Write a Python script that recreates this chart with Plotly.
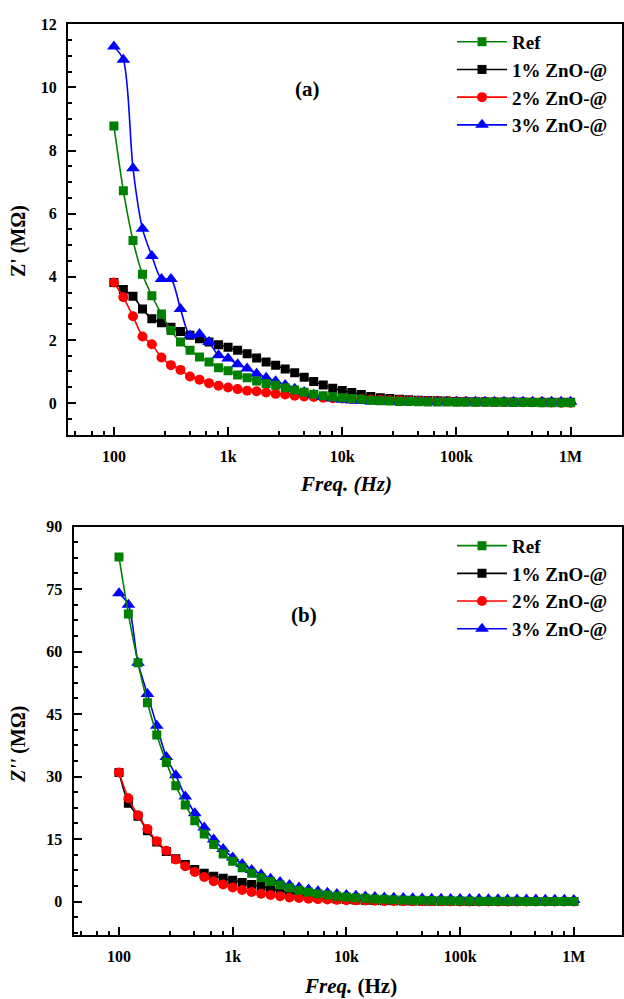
import plotly.graph_objects as go

# ---------------- data ----------------
freq = [100, 121, 147, 178, 215, 261, 316, 383, 464, 562, 681, 825,
        1000, 1212, 1468, 1778, 2154, 2610, 3162, 3831, 4642, 5623, 6813, 8254,
        10000, 12115, 14678, 17783, 21544, 26102, 31623, 38312, 46416, 56234, 68129, 82540,
        100000, 121153, 146780, 177828, 215443, 261016, 316228, 383119, 464159, 562341, 681292, 825404,
        1000000]

series_names = ["Ref", "1% ZnO-@", "2% ZnO-@", "3% ZnO-@"]

# (a) Z' (MOhm)
zr_ref = [8.78, 6.73, 5.15, 4.08, 3.40, 2.82, 2.30, 1.93, 1.67, 1.46, 1.30, 1.12,
          1.02, 0.89, 0.80, 0.70, 0.62, 0.56, 0.48, 0.41, 0.34, 0.28, 0.23, 0.20,
          0.17, 0.14, 0.12, 0.09, 0.07, 0.06, 0.05, 0.045, 0.04, 0.035, 0.03, 0.03,
          0.025, 0.025, 0.02, 0.02, 0.02, 0.02, 0.015, 0.015, 0.015, 0.01, 0.01, 0.01,
          0.01]
zr_1 = [3.82, 3.60, 3.38, 2.98, 2.67, 2.54, 2.40, 2.27, 2.15, 2.04, 1.93, 1.85,
        1.77, 1.67, 1.56, 1.43, 1.30, 1.20, 1.08, 0.96, 0.82, 0.68, 0.57, 0.47,
        0.40, 0.33, 0.27, 0.21, 0.17, 0.14, 0.12, 0.10, 0.09, 0.08, 0.07, 0.06,
        0.05, 0.05, 0.04, 0.04, 0.035, 0.03, 0.03, 0.03, 0.025, 0.02, 0.02, 0.02,
        0.02]
zr_2 = [3.82, 3.35, 2.75, 2.11, 1.86, 1.44, 1.20, 1.05, 0.84, 0.74, 0.63, 0.55,
        0.49, 0.44, 0.39, 0.37, 0.33, 0.29, 0.27, 0.23, 0.21, 0.19, 0.17, 0.15,
        0.14, 0.13, 0.12, 0.11, 0.10, 0.09, 0.085, 0.08, 0.07, 0.065, 0.06, 0.055,
        0.05, 0.045, 0.04, 0.04, 0.035, 0.03, 0.03, 0.025, 0.02, 0.02, 0.015, 0.01,
        0.01]
zr_3 = [11.30, 10.88, 7.44, 5.52, 4.66, 3.93, 3.93, 2.98, 2.14, 2.19, 1.93, 1.51,
        1.41, 1.23, 1.09, 0.93, 0.80, 0.69, 0.57, 0.45, 0.35, 0.26, 0.19, 0.14,
        0.10, 0.08, 0.06, 0.05, 0.045, 0.04, 0.04, 0.04, 0.04, 0.04, 0.04, 0.04,
        0.04, 0.04, 0.04, 0.04, 0.04, 0.04, 0.04, 0.04, 0.04, 0.04, 0.04, 0.04,
        0.04]

# (b) Z'' (MOhm)
zi_ref = [82.7, 69.0, 57.3, 47.7, 40.0, 33.4, 27.8, 23.2, 19.4, 16.2, 13.7, 11.4,
          9.7, 8.1, 6.8, 5.7, 4.8, 4.0, 3.3, 2.7, 2.3, 1.9, 1.6, 1.3,
          1.1, 0.95, 0.8, 0.65, 0.55, 0.45, 0.4, 0.35, 0.3, 0.25, 0.2, 0.18,
          0.15, 0.13, 0.11, 0.1, 0.08, 0.07, 0.06, 0.05, 0.04, 0.03, 0.03, 0.02,
          0.02]
zi_1 = [31.0, 23.6, 20.5, 17.0, 14.3, 12.0, 10.3, 8.9, 7.7, 6.8, 6.1, 5.6,
        5.1, 4.6, 4.1, 3.6, 3.1, 2.6, 2.1, 1.7, 1.3, 1.0, 0.8, 0.6,
        0.5, 0.4, 0.33, 0.27, 0.22, 0.18, 0.15, 0.12, 0.1, 0.09, 0.08, 0.07,
        0.06, 0.05, 0.05, 0.04, 0.04, 0.03, 0.03, 0.03, 0.02, 0.02, 0.02, 0.01,
        0.01]
zi_2 = [31.0, 24.8, 20.7, 17.4, 14.5, 12.2, 10.1, 8.5, 7.1, 5.9, 4.9, 4.1,
        3.4, 2.8, 2.3, 1.9, 1.6, 1.3, 1.0, 0.85, 0.7, 0.6, 0.5, 0.42,
        0.35, 0.3, 0.25, 0.2, 0.17, 0.15, 0.12, 0.1, 0.09, 0.08, 0.07, 0.06,
        0.05, 0.05, 0.04, 0.04, 0.03, 0.03, 0.03, 0.02, 0.02, 0.02, 0.01, 0.01,
        0.01]
zi_3 = [74.0, 71.2, 57.3, 49.8, 42.2, 34.7, 30.3, 25.2, 21.2, 17.8, 14.9, 12.6,
        10.6, 9.0, 7.6, 6.5, 5.5, 4.7, 4.0, 3.4, 2.9, 2.5, 2.1, 1.8,
        1.6, 1.4, 1.25, 1.1, 1.0, 0.9, 0.85, 0.8, 0.75, 0.7, 0.7, 0.65,
        0.6, 0.6, 0.6, 0.55, 0.55, 0.5, 0.5, 0.5, 0.5, 0.45, 0.45, 0.45,
        0.4]

x_tickvals = [100, 1000, 10000, 100000, 1000000]
x_ticktext = ["100", "1k", "10k", "100k", "1M"]
x_minor_mult = [2.8, 4.6, 6.4, 8.2]
x_minor_decades = [10, 100, 1000, 10000, 100000, 1000000]
y1_tickvals = [0, 2, 4, 6, 8, 10, 12]
y2_tickvals = [0, 15, 30, 45, 60, 75, 90]

for arr in (zr_ref, zr_1, zr_2, zr_3, zi_ref, zi_1, zi_2, zi_3):
    assert len(arr) == len(freq), len(arr)

# ---------------- styling ----------------
FONT = "Liberation Serif"
W, H = 624, 999
colors = {"Ref": "#008000", "1% ZnO-@": "#000000", "2% ZnO-@": "#FF0000", "3% ZnO-@": "#0000FF"}
symbols = {"Ref": "square", "1% ZnO-@": "square", "2% ZnO-@": "circle", "3% ZnO-@": "triangle-up"}
msize = {"Ref": 9, "1% ZnO-@": 9, "2% ZnO-@": 10, "3% ZnO-@": 12}
rank = {"Ref": 1, "1% ZnO-@": 2, "2% ZnO-@": 3, "3% ZnO-@": 4}

top_data = {"Ref": zr_ref, "1% ZnO-@": zr_1, "2% ZnO-@": zr_2, "3% ZnO-@": zr_3}
bot_data = {"Ref": zi_ref, "1% ZnO-@": zi_1, "2% ZnO-@": zi_2, "3% ZnO-@": zi_3}
draw_order = ["1% ZnO-@", "2% ZnO-@", "3% ZnO-@", "Ref"]

fig = go.Figure()
for name in draw_order:
    fig.add_trace(go.Scatter(
        x=freq, y=top_data[name], name="<b>%s</b>" % name, mode="lines+markers",
        line=dict(color=colors[name], width=1.6, shape="spline", smoothing=0.8),
        marker=dict(symbol=symbols[name], size=msize[name], color=colors[name], line=dict(width=0)),
        xaxis="x", yaxis="y", legend="legend", legendrank=rank[name]))
for name in draw_order:
    fig.add_trace(go.Scatter(
        x=freq, y=bot_data[name], name="<b>%s</b>" % name, mode="lines+markers",
        line=dict(color=colors[name], width=1.6, shape="spline", smoothing=0.8),
        marker=dict(symbol=symbols[name], size=msize[name], color=colors[name], line=dict(width=0)),
        xaxis="x2", yaxis="y2", legend="legend2", legendrank=rank[name]))

minor_x = [m * d for d in x_minor_decades for m in x_minor_mult]

def xaxis_cfg(domain, rng, anchor):
    return dict(
        type="log", domain=domain, range=rng, anchor=anchor,
        tickmode="array", tickvals=x_tickvals, ticktext=["<b>%s</b>" % t for t in x_ticktext],
        ticks="inside", ticklen=8, tickwidth=1.8, tickcolor="black",
        minor=dict(tickmode="array", tickvals=minor_x, ticks="inside", ticklen=4, tickwidth=1.5, tickcolor="black"),
        showline=True, linewidth=2, linecolor="black", mirror=True,
        showgrid=False, zeroline=False,
        tickfont=dict(family=FONT, size=16, color="black"), ticklabelstandoff=6)

def yaxis_cfg(domain, rng, anchor, tickvals, minor_dt):
    return dict(
        domain=domain, range=rng, anchor=anchor,
        tickmode="array", tickvals=tickvals, ticktext=["<b>%s</b>" % v for v in tickvals],
        ticks="inside", ticklen=8, tickwidth=1.8, tickcolor="black",
        minor=dict(dtick=minor_dt, tick0=0, ticks="inside", ticklen=4, tickwidth=1.5, tickcolor="black"),
        showline=True, linewidth=2, linecolor="black", mirror=True,
        showgrid=False, zeroline=False,
        tickfont=dict(family=FONT, size=16, color="black"), ticklabelstandoff=6)

def px(x):
    return x / W

def py(y):
    return 1 - y / H

legend_common = dict(xanchor="left", yanchor="top",
                     font=dict(family=FONT, size=19, color="black"), itemwidth=50,
                     bgcolor="rgba(0,0,0,0)", tracegroupgap=0, itemsizing="trace")

fig.update_layout(
    width=W, height=H, margin=dict(l=0, r=0, t=0, b=0),
    paper_bgcolor="white", plot_bgcolor="white",
    xaxis=xaxis_cfg([px(68), px(622)], [1.598, 6.45], "y"),
    yaxis=yaxis_cfg([py(430), py(16.5)], [-1, 12], "x", y1_tickvals, 0.5),
    xaxis2=xaxis_cfg([px(73.5), px(622)], [1.600, 6.424], "y2"),
    yaxis2=yaxis_cfg([py(934), py(522.7)], [-7.9, 90], "x2", y2_tickvals, 3.75),
    legend=dict(x=px(452), y=py(15), **legend_common),
    legend2=dict(x=px(452), y=py(523), **legend_common),
    showlegend=True,
)

ann = [
    dict(text="<b>(a)</b>", x=px(307), y=py(82), xanchor="center", yanchor="middle", font_size=21),
    dict(text="<b>(b)</b>", x=px(304), y=py(612), xanchor="center", yanchor="middle", font_size=21),
    dict(text="<b><i>Freq. (Hz)</i></b>", x=px(346), y=py(480), xanchor="center", yanchor="middle", font_size=21),
    dict(text="<b><i>Freq.</i> (Hz)</b>", x=px(350), y=py(986), xanchor="center", yanchor="middle", font_size=21),
    dict(text="<b>Z' (MΩ)</b>", x=px(18), y=py(235), xanchor="center", yanchor="middle", textangle=-90, font_size=20),
    dict(text="<b><i>Z''</i> (MΩ)</b>", x=px(18), y=py(742), xanchor="center", yanchor="middle", textangle=-90, font_size=20),
]
for a in ann:
    a.update(xref="paper", yref="paper", showarrow=False)
    a["font"] = dict(family=FONT, size=a.pop("font_size"), color="black")
fig.update_layout(annotations=ann)

fig.write_html("out.html",
               config={"displayModeBar": False},
               post_script="document.body.style.margin='0px';document.body.style.padding='0px';"
                           "document.documentElement.style.overflow='hidden';")
